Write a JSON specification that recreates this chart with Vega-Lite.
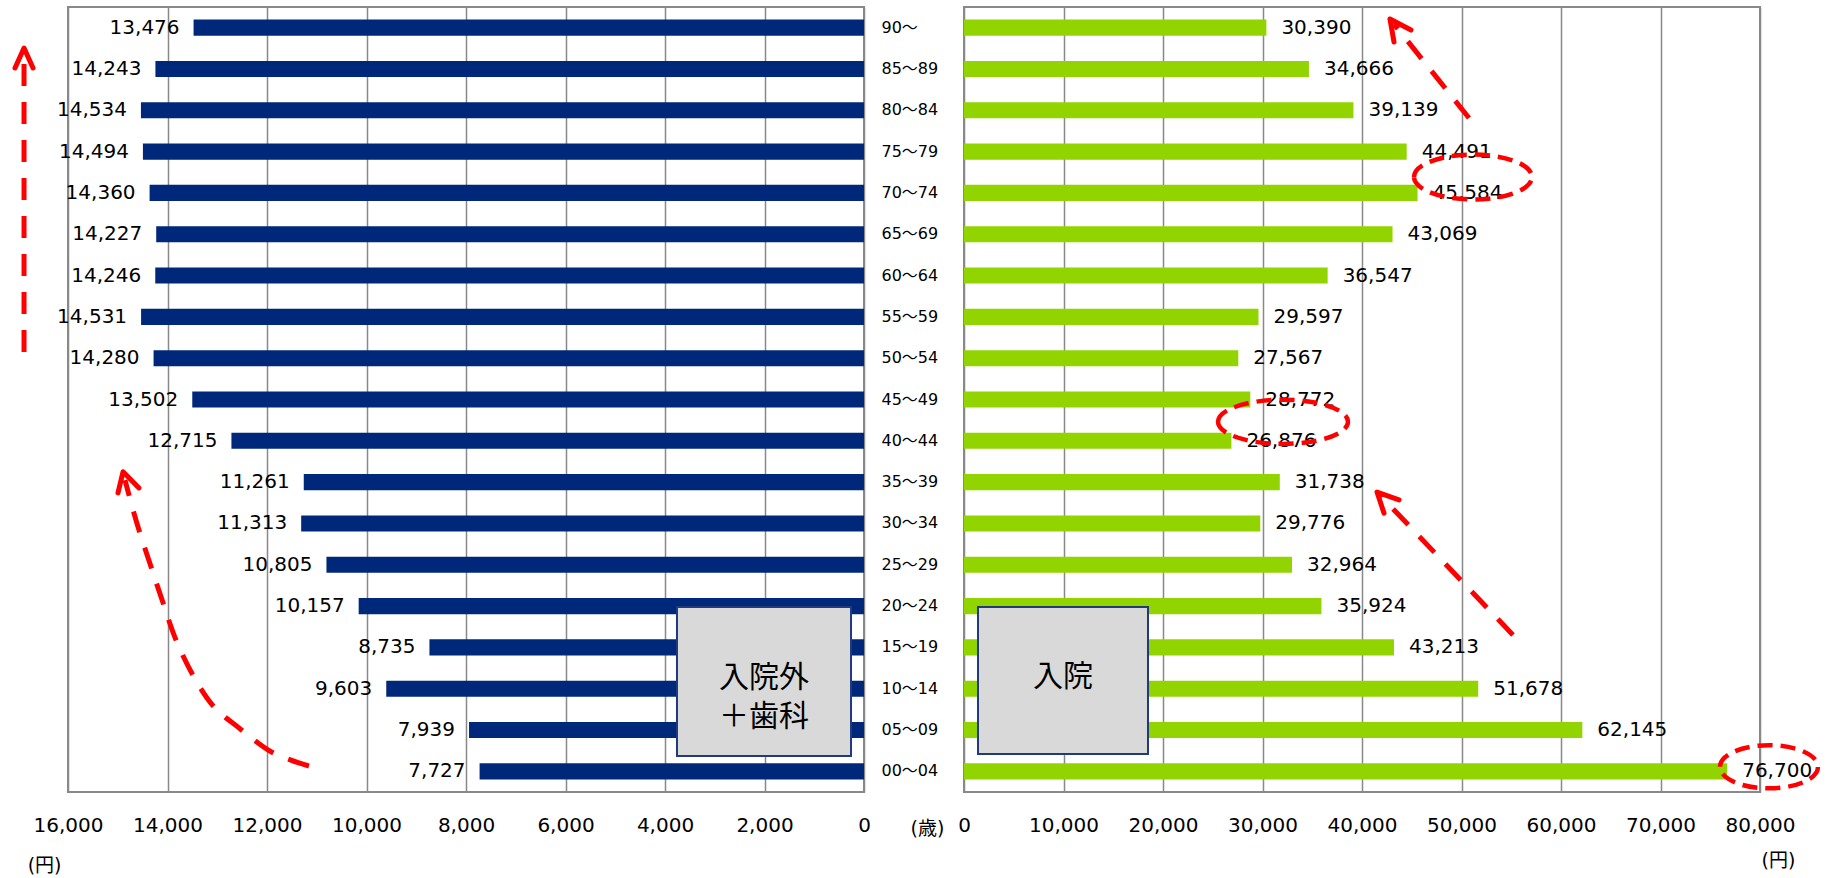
{
  "$schema": "https://vega.github.io/schema/vega-lite/v6.json",
  "background": "white",
  "padding": {"left": 11, "top": 6, "right": 5, "bottom": 5},
  "autosize": {"type": "pad"},
  "bounds": "flush",
  "spacing": 100,
  "config": {
    "font": "DejaVu Sans, Noto Sans CJK JP",
    "view": {"stroke": "#898989", "strokeWidth": 2}
  },
  "datasets": {
    "main": [
      {"age": "90～", "out": 13476, "inp": 30390},
      {"age": "85～89", "out": 14243, "inp": 34666},
      {"age": "80～84", "out": 14534, "inp": 39139},
      {"age": "75～79", "out": 14494, "inp": 44491},
      {"age": "70～74", "out": 14360, "inp": 45584},
      {"age": "65～69", "out": 14227, "inp": 43069},
      {"age": "60～64", "out": 14246, "inp": 36547},
      {"age": "55～59", "out": 14531, "inp": 29597},
      {"age": "50～54", "out": 14280, "inp": 27567},
      {"age": "45～49", "out": 13502, "inp": 28772},
      {"age": "40～44", "out": 12715, "inp": 26876},
      {"age": "35～39", "out": 11261, "inp": 31738},
      {"age": "30～34", "out": 11313, "inp": 29776},
      {"age": "25～29", "out": 10805, "inp": 32964},
      {"age": "20～24", "out": 10157, "inp": 35924},
      {"age": "15～19", "out": 8735, "inp": 43213},
      {"age": "10～14", "out": 9603, "inp": 51678},
      {"age": "05～09", "out": 7939, "inp": 62145},
      {"age": "00～04", "out": 7727, "inp": 76700}
    ],
    "leftShaft": [
      {"g": "a", "i": 0, "x": 16884, "y": 8.35},
      {"g": "a", "i": 1, "x": 16884, "y": 1.09},
      {"g": "b", "i": 0, "x": 11156, "y": 18.37},
      {"g": "b", "i": 1, "x": 11517, "y": 18.23},
      {"g": "b", "i": 2, "x": 11980, "y": 17.98},
      {"g": "b", "i": 3, "x": 12583, "y": 17.43},
      {"g": "b", "i": 4, "x": 13065, "y": 16.94},
      {"g": "b", "i": 5, "x": 13467, "y": 16.22},
      {"g": "b", "i": 6, "x": 13829, "y": 15.32},
      {"g": "b", "i": 7, "x": 14090, "y": 14.42},
      {"g": "b", "i": 8, "x": 14331, "y": 13.55},
      {"g": "b", "i": 9, "x": 14573, "y": 12.66},
      {"g": "b", "i": 10, "x": 14693, "y": 12.17},
      {"g": "b", "i": 11, "x": 14854, "y": 11.45}
    ],
    "leftHead": [
      {"g": "a", "i": 0, "x": 17065, "y": 1.476},
      {"g": "a", "i": 1, "x": 16884, "y": 0.992},
      {"g": "a", "i": 2, "x": 16703, "y": 1.476},
      {"g": "b", "i": 0, "x": 14995, "y": 11.76},
      {"g": "b", "i": 1, "x": 14894, "y": 11.25},
      {"g": "b", "i": 2, "x": 14573, "y": 11.64}
    ],
    "rightShaft": [
      {"g": "c", "i": 0, "x": 50753, "y": 2.687},
      {"g": "c", "i": 1, "x": 43215, "y": 0.411},
      {"g": "d", "i": 0, "x": 55175, "y": 15.2},
      {"g": "d", "i": 1, "x": 41909, "y": 11.84}
    ],
    "rightHead": [
      {"g": "c", "i": 0, "x": 43215, "y": 0.847},
      {"g": "c", "i": 1, "x": 42813, "y": 0.29},
      {"g": "c", "i": 2, "x": 44924, "y": 0.557},
      {"g": "d", "i": 0, "x": 42211, "y": 12.25},
      {"g": "d", "i": 1, "x": 41507, "y": 11.74},
      {"g": "d", "i": 2, "x": 43718, "y": 11.93}
    ],
    "leftBox": [
      {"x1": 3759, "x2": 261, "y1": 14.52, "y2": 18.13, "xc": 2010, "yc": 16.23, "label": "入院外\n＋歯科"}
    ],
    "rightBox": [
      {"x1": 1407, "x2": 18492, "y1": 14.52, "y2": 18.08, "xc": 9950, "yc": 16.22, "label": "入院"}
    ],
    "ell1": [{"x": 51155, "y": 4.115}],
    "ell2": [{"x": 32060, "y": 10.04}],
    "ell3": [{"x": 80903, "y": 18.39}]
  },
  "hconcat": [
    {
      "width": 796,
      "height": 785,
      "resolve": {"scale": {"y": "independent"}},
      "layer": [
        {
          "data": {"name": "main"},
          "layer": [
            {
              "mark": {"type": "bar", "color": "#00287a"},
              "encoding": {
                "y": {
                  "field": "age", "type": "nominal", "sort": null,
                  "scale": {"paddingInner": 0.61, "paddingOuter": 0.305},
                  "axis": {
                    "orient": "right", "labelAlign": "left", "labelPadding": 17,
                    "ticks": false, "domain": false, "grid": false,
                    "labelFontSize": 16, "labelColor": "#000",
                    "title": "(歳)", "titleAngle": 0, "titleX": 46, "titleY": 821,
                    "titleAlign": "left", "titleBaseline": "middle",
                    "titleFontSize": 19, "titleFontWeight": "normal", "titleColor": "#000"
                  }
                },
                "x": {
                  "field": "out", "type": "quantitative",
                  "scale": {"domain": [0, 16000], "reverse": true, "nice": false},
                  "axis": {
                    "values": [0, 2000, 4000, 6000, 8000, 10000, 12000, 14000, 16000],
                    "labelExpr": "format(datum.value, ',')",
                    "grid": true, "gridColor": "#898989", "gridWidth": 1.5,
                    "ticks": false, "domain": false, "labelPadding": 23,
                    "labelFontSize": 20, "labelColor": "#000", "labelFlush": false, "labelOverlap": false,
                    "title": "(円)", "titleX": -7, "titleY": 73, "titleAlign": "right",
                    "titleBaseline": "middle", "titleFontSize": 19, "titleFontWeight": "normal", "titleColor": "#000"
                  }
                }
              }
            },
            {
              "mark": {"type": "text", "align": "right", "baseline": "middle", "dx": -14, "fontSize": 20, "color": "#000"},
              "encoding": {
                "y": {"field": "age", "type": "nominal", "sort": null},
                "x": {"field": "out", "type": "quantitative"},
                "text": {"field": "out", "type": "quantitative", "format": ","}
              }
            }
          ]
        },
        {
          "data": {"name": "leftBox"},
          "mark": {"type": "rect", "fill": "#d9d9d9", "stroke": "#203a80", "strokeWidth": 2},
          "encoding": {
            "x": {"field": "x1", "type": "quantitative"},
            "x2": {"field": "x2"},
            "y": {"field": "y1", "type": "quantitative", "scale": {"domain": [0, 19], "reverse": true, "nice": false, "zero": false}, "axis": null},
            "y2": {"field": "y2"}
          }
        },
        {
          "data": {"name": "leftBox"},
          "mark": {"type": "text", "font": "Noto Sans CJK JP", "fontSize": 30, "lineBreak": "\n", "lineHeight": 39, "align": "center", "baseline": "middle", "color": "#000"},
          "encoding": {
            "x": {"field": "xc", "type": "quantitative"},
            "y": {"field": "yc", "type": "quantitative", "scale": {"domain": [0, 19], "reverse": true, "nice": false, "zero": false}, "axis": null},
            "text": {"field": "label"}
          }
        },
        {
          "data": {"name": "leftShaft"},
          "mark": {"type": "line", "color": "#ff0000", "strokeWidth": 5, "strokeDash": [22, 16], "interpolate": "cardinal", "clip": false},
          "encoding": {
            "x": {"field": "x", "type": "quantitative"},
            "y": {"field": "y", "type": "quantitative", "scale": {"domain": [0, 19], "reverse": true, "nice": false, "zero": false}, "axis": null},
            "detail": {"field": "g"},
            "order": {"field": "i", "type": "quantitative"}
          }
        },
        {
          "data": {"name": "leftHead"},
          "mark": {"type": "line", "color": "#ff0000", "strokeWidth": 5, "strokeCap": "round", "strokeJoin": "round", "clip": false},
          "encoding": {
            "x": {"field": "x", "type": "quantitative"},
            "y": {"field": "y", "type": "quantitative", "scale": {"domain": [0, 19], "reverse": true, "nice": false, "zero": false}, "axis": null},
            "detail": {"field": "g"},
            "order": {"field": "i", "type": "quantitative"}
          }
        }
      ]
    },
    {
      "width": 796,
      "height": 785,
      "resolve": {"scale": {"y": "independent"}},
      "layer": [
        {
          "data": {"name": "main"},
          "layer": [
            {
              "mark": {"type": "bar", "color": "#92d400"},
              "encoding": {
                "y": {
                  "field": "age", "type": "nominal", "sort": null,
                  "scale": {"paddingInner": 0.61, "paddingOuter": 0.305},
                  "axis": null
                },
                "x": {
                  "field": "inp", "type": "quantitative",
                  "scale": {"domain": [0, 80000], "nice": false},
                  "axis": {
                    "values": [0, 10000, 20000, 30000, 40000, 50000, 60000, 70000, 80000],
                    "labelExpr": "format(datum.value, ',')",
                    "grid": true, "gridColor": "#898989", "gridWidth": 1.5,
                    "ticks": false, "domain": false, "labelPadding": 23,
                    "labelFontSize": 20, "labelColor": "#000", "labelFlush": false, "labelOverlap": false,
                    "title": "(円)", "titleX": 797, "titleY": 68, "titleAlign": "left",
                    "titleBaseline": "middle", "titleFontSize": 19, "titleFontWeight": "normal", "titleColor": "#000"
                  }
                }
              }
            },
            {
              "mark": {"type": "text", "align": "left", "baseline": "middle", "dx": 15, "fontSize": 20, "color": "#000"},
              "encoding": {
                "y": {"field": "age", "type": "nominal", "sort": null},
                "x": {"field": "inp", "type": "quantitative"},
                "text": {"field": "inp", "type": "quantitative", "format": ","}
              }
            }
          ]
        },
        {
          "data": {"name": "rightBox"},
          "mark": {"type": "rect", "fill": "#d9d9d9", "stroke": "#203a80", "strokeWidth": 2},
          "encoding": {
            "x": {"field": "x1", "type": "quantitative"},
            "x2": {"field": "x2"},
            "y": {"field": "y1", "type": "quantitative", "scale": {"domain": [0, 19], "reverse": true, "nice": false, "zero": false}, "axis": null},
            "y2": {"field": "y2"}
          }
        },
        {
          "data": {"name": "rightBox"},
          "mark": {"type": "text", "font": "Noto Sans CJK JP", "fontSize": 30, "align": "center", "baseline": "middle", "color": "#000"},
          "encoding": {
            "x": {"field": "xc", "type": "quantitative"},
            "y": {"field": "yc", "type": "quantitative", "scale": {"domain": [0, 19], "reverse": true, "nice": false, "zero": false}, "axis": null},
            "text": {"field": "label"}
          }
        },
        {
          "data": {"name": "rightShaft"},
          "mark": {"type": "line", "color": "#ff0000", "strokeWidth": 5, "strokeDash": [22, 16], "clip": false},
          "encoding": {
            "x": {"field": "x", "type": "quantitative"},
            "y": {"field": "y", "type": "quantitative", "scale": {"domain": [0, 19], "reverse": true, "nice": false, "zero": false}, "axis": null},
            "detail": {"field": "g"},
            "order": {"field": "i", "type": "quantitative"}
          }
        },
        {
          "data": {"name": "rightHead"},
          "mark": {"type": "line", "color": "#ff0000", "strokeWidth": 5, "strokeCap": "round", "strokeJoin": "round", "clip": false},
          "encoding": {
            "x": {"field": "x", "type": "quantitative"},
            "y": {"field": "y", "type": "quantitative", "scale": {"domain": [0, 19], "reverse": true, "nice": false, "zero": false}, "axis": null},
            "detail": {"field": "g"},
            "order": {"field": "i", "type": "quantitative"}
          }
        },
        {
          "data": {"name": "ell1"},
          "mark": {"type": "point", "shape": "M-1,0A1,0.38,0,1,1,1,0A1,0.38,0,1,1,-1,0Z", "size": 13924, "filled": false, "stroke": "#ff0000", "strokeWidth": 4.5, "strokeDash": [15, 8], "opacity": 1, "clip": false},
          "encoding": {
            "x": {"field": "x", "type": "quantitative"},
            "y": {"field": "y", "type": "quantitative", "scale": {"domain": [0, 19], "reverse": true, "nice": false, "zero": false}, "axis": null}
          }
        },
        {
          "data": {"name": "ell2"},
          "mark": {"type": "point", "shape": "M-1,0A1,0.34,0,1,1,1,0A1,0.34,0,1,1,-1,0Z", "size": 16900, "filled": false, "stroke": "#ff0000", "strokeWidth": 4.5, "strokeDash": [15, 8], "opacity": 1, "clip": false},
          "encoding": {
            "x": {"field": "x", "type": "quantitative"},
            "y": {"field": "y", "type": "quantitative", "scale": {"domain": [0, 19], "reverse": true, "nice": false, "zero": false}, "axis": null}
          }
        },
        {
          "data": {"name": "ell3"},
          "mark": {"type": "point", "shape": "M-1,0A1,0.44,0,1,1,1,0A1,0.44,0,1,1,-1,0Z", "size": 9604, "filled": false, "stroke": "#ff0000", "strokeWidth": 4.5, "strokeDash": [15, 8], "opacity": 1, "clip": false},
          "encoding": {
            "x": {"field": "x", "type": "quantitative"},
            "y": {"field": "y", "type": "quantitative", "scale": {"domain": [0, 19], "reverse": true, "nice": false, "zero": false}, "axis": null}
          }
        }
      ]
    }
  ]
}
